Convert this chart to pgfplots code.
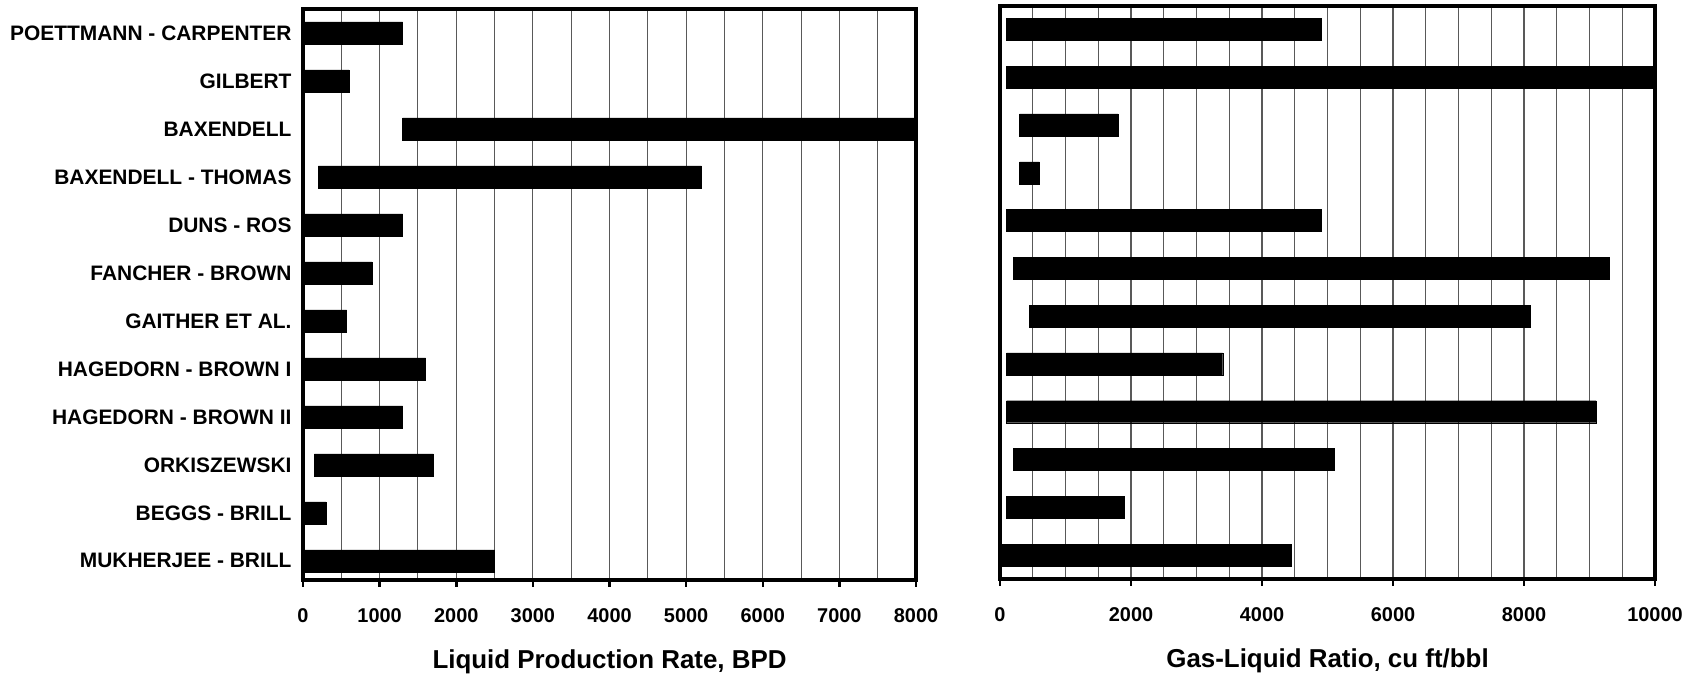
\documentclass[border=0pt]{standalone}
\usepackage{pgfplots}
\pgfplotsset{compat=1.18}
\usepackage{pgfplotstable}
\usepackage{fontspec}
\setmainfont{Liberation Sans}

% y: 11 = top (POETTMANN - CARPENTER) ... 0 = bottom (MUKHERJEE - BRILL)
\pgfplotstableread{
y start end
11 0 1300
10 0 600
9 1300 8000
8 200 5200
7 0 1300
6 0 900
5 0 570
4 0 1600
3 0 1300
2 150 1700
1 0 300
0 0 2500
}\liquid

\pgfplotstableread{
y start end
11 100 4900
10 100 10000
9 300 1800
8 300 600
7 100 4900
6 200 9300
5 450 8100
4 100 3400
3 100 9100
2 200 5100
1 100 1900
0 0 4450
}\glr

\pgfplotsset{
  rangebar/.style={
    scale only axis,
    xbar stacked,
    bar width=22bp,
    scaled x ticks=false,
    axis line style={line width=3.5bp, black},
    xtick pos=bottom,
    ytick pos=left,
    tick align=outside,
    major x tick style={line width=2.5bp, black},
    major tick length=7bp,
    minor tick length=0pt,
    major y tick style={draw=none},
    ytick={0,...,11},
    xmajorgrids, xminorgrids,
    major grid style={black!65, line width=1.1bp},
    minor grid style={black!65, line width=1.1bp},
    ymajorgrids=false,
    tick label style={font=\fontsize{20}{24}\selectfont\bfseries},
    xticklabel style={anchor=base, yshift=-36bp},
    every axis x label/.style={at={(axis description cs:0.5,0)}, anchor=base, yshift=-89bp,
      font=\fontsize{26}{30}\selectfont\bfseries},
  }
}

\begin{document}
\begin{tikzpicture}[x=1bp,y=1bp]
\path[use as bounding box] (0,0) rectangle (1704,677);

\begin{axis}[rangebar,
  at={(303bp,97bp)}, anchor=south west,
  width=613bp, height=571bp,
  xmin=0, xmax=8000, ymin=-0.40, ymax=11.5,
  xtick={0,1000,2000,3000,4000,5000,6000,7000,8000},
  xticklabels={0,1000,2000,3000,4000,5000,6000,7000,8000},
  minor xtick={500,1500,2500,3500,4500,5500,6500,7500},
  yticklabels={MUKHERJEE - BRILL,BEGGS - BRILL,ORKISZEWSKI,HAGEDORN - BROWN II,HAGEDORN - BROWN I,GAITHER ET AL.,FANCHER - BROWN,DUNS - ROS,BAXENDELL - THOMAS,BAXENDELL,GILBERT,POETTMANN - CARPENTER},
  yticklabel style={xshift=-1bp, font=\fontsize{21}{25}\selectfont\bfseries},
  xlabel={Liquid Production Rate, BPD},
]
\addplot[draw=none, fill=none, forget plot] table[x=start, y=y] {\liquid};
\addplot[draw=black, fill=black] table[x expr=\thisrow{end}-\thisrow{start}, y=y] {\liquid};
\end{axis}

\begin{axis}[rangebar,
  at={(1000bp,98bp)}, anchor=south west,
  width=655bp, height=573bp,
  xmin=0, xmax=10000, ymin=-0.50, ymax=11.49,
  xtick={0,2000,4000,6000,8000,10000},
  xticklabels={0,2000,4000,6000,8000,10000},
  minor xtick={500,1000,1500,2500,3000,3500,4500,5000,5500,6500,7000,7500,8500,9000,9500},
  yticklabels={},
  xlabel={Gas-Liquid Ratio, cu ft/bbl},
]
\addplot[draw=none, fill=none, forget plot] table[x=start, y=y] {\glr};
\addplot[draw=black, fill=black] table[x expr=\thisrow{end}-\thisrow{start}, y=y] {\glr};
\end{axis}
\end{tikzpicture}
\end{document}
